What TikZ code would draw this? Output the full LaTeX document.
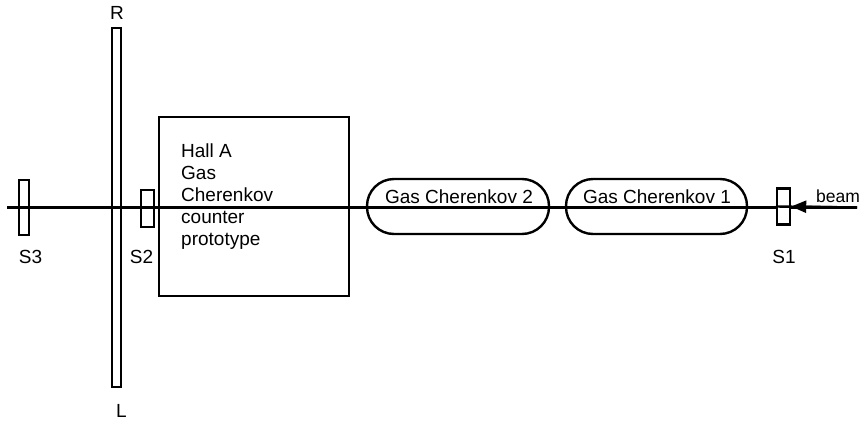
\documentclass[tikz,border=0pt]{standalone}
\usepackage{fontspec}
\setmainfont{Liberation Sans}
\usetikzlibrary{arrows.meta}
\begin{document}
\begin{tikzpicture}[x=1pt,y=-1pt,
  part/.style={draw,line width=2.4pt,rectangle,inner sep=0pt},
  capsule/.style={draw,line width=2.4pt,rectangle,inner sep=0pt,rounded corners=27pt},
  lbl/.style={inner sep=0pt,anchor=base,font=\fontsize{19}{22}\selectfont},
  beamline/.style={line width=2.4pt}]
\useasboundingbox (0,0) rectangle (864,423);
% beam line
\coordinate (beamR) at (857,207.5);
\coordinate (beamL) at (7,207.5);
\draw[beamline] (beamR) -- (beamL);
% detectors
\node[part,minimum width=10pt,minimum height=55pt] (S3) at (24,207.5) {};
\node[part,minimum width=9pt,minimum height=359pt] (RL) at (116.5,207.5) {};
\node[part,minimum width=13pt,minimum height=37pt] (S2) at (147.5,208.5) {};
\node[part,minimum width=190pt,minimum height=179pt] (box) at (254,206.5) {};
\node[capsule,minimum width=182pt,minimum height=55pt] (GC2) at (458,206.5) {};
\node[capsule,minimum width=181pt,minimum height=55pt] (GC1) at (656.5,206.5) {};
\node[part,minimum width=13pt,minimum height=36pt,fill=white] (S1) at (783.5,206.5) {};
\draw[beamline] (beamR) -- (S1.west);
\draw[beamline,-{Triangle[length=15pt,width=12pt]}] (beamR) -- (S1.east);
% labels
\node[lbl] (lR) at (117,19) {R};
\node[lbl] (lL) at (121.5,417) {L};
\node[lbl] (lS3) at (30.5,263) {S3};
\node[lbl] (lS2) at (141.5,263) {S2};
\node[lbl] (lS1) at (784,263) {S1};
\node[lbl,font=\fontsize{17.5}{20}\selectfont] (lbeam) at (838,202) {beam};
\node[lbl] (lGC2) at (459,203.5) {Gas Cherenkov 2};
\node[lbl] (lGC1) at (657,203.5) {Gas Cherenkov 1};
\node[inner sep=0pt,anchor=north west,align=left,font=\fontsize{19}{22}\selectfont] (lbox) at (181,144) {Hall A\\Gas\\Cherenkov\\counter\\prototype};
\end{tikzpicture}
\end{document}
